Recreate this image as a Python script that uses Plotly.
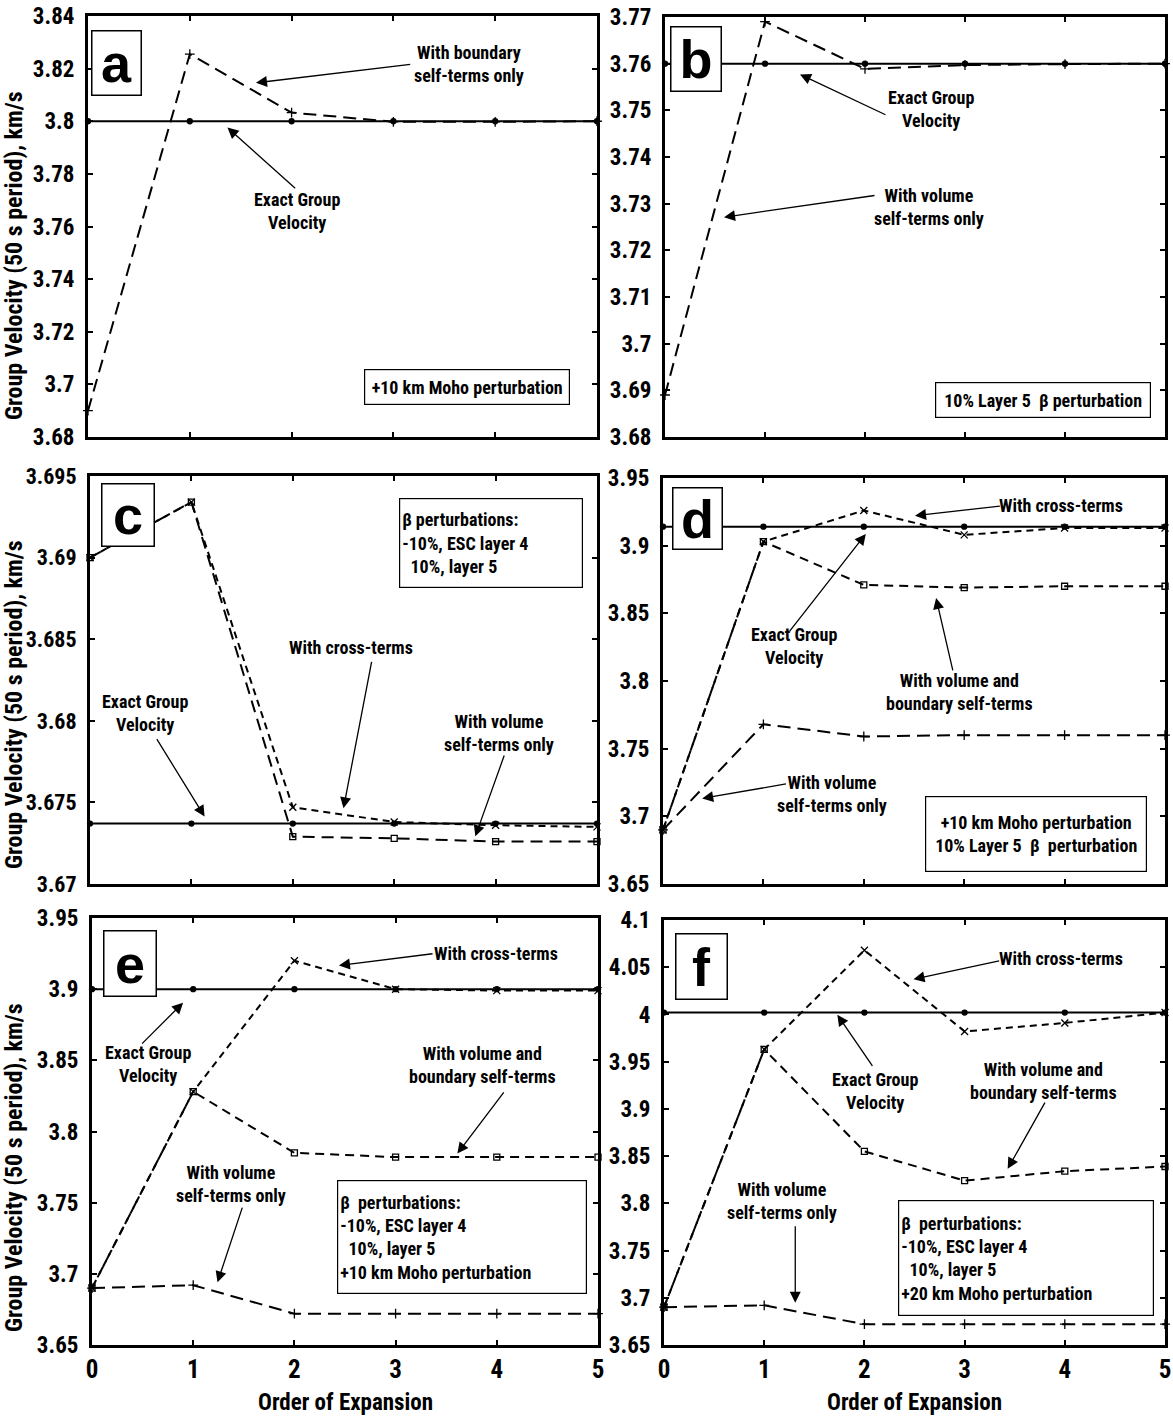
import plotly.graph_objects as go

W, H = 1173, 1423
FONT = "Roboto Condensed, Open Sans Condensed, Liberation Sans Narrow, sans-serif"

# ---------------- data ----------------
x_order = [0, 1, 2, 3, 4, 5]
x_ticktext = ["0", "1", "2", "3", "4", "5"]

a_exact = [3.800, 3.800, 3.800, 3.800, 3.800, 3.800]
a_boundary = [3.690, 3.8255, 3.8033, 3.7998, 3.7998, 3.8000]

b_exact = [3.760, 3.760, 3.760, 3.760, 3.760, 3.760]
b_volume = [3.689, 3.7690, 3.7589, 3.7597, 3.7599, 3.7600]

c_exact = [3.6737, 3.6737, 3.6737, 3.6737, 3.6737, 3.6737]
c_cross = [3.6900, 3.6934, 3.6747, 3.6738, 3.6736, 3.6735]
c_volume = [3.6900, 3.6934, 3.6729, 3.6728, 3.6726, 3.6726]

d_exact = [3.914, 3.914, 3.914, 3.914, 3.914, 3.914]
d_cross = [3.690, 3.903, 3.926, 3.908, 3.913, 3.913]
d_volbound = [3.690, 3.903, 3.871, 3.869, 3.870, 3.870]
d_volume = [3.690, 3.768, 3.759, 3.760, 3.760, 3.760]

e_exact = [3.900, 3.900, 3.900, 3.900, 3.900, 3.900]
e_cross = [3.690, 3.828, 3.920, 3.900, 3.899, 3.899]
e_volbound = [3.690, 3.828, 3.785, 3.782, 3.782, 3.782]
e_volume = [3.690, 3.692, 3.672, 3.672, 3.672, 3.672]

f_exact = [4.002, 4.002, 4.002, 4.002, 4.002, 4.002]
f_cross = [3.690, 3.963, 4.068, 3.982, 3.991, 4.002]
f_volbound = [3.690, 3.963, 3.855, 3.824, 3.834, 3.839]
f_volume = [3.690, 3.692, 3.672, 3.672, 3.672, 3.672]

a_yticks = [3.68, 3.70, 3.72, 3.74, 3.76, 3.78, 3.80, 3.82, 3.84]
a_ytext = ["3.68", "3.7", "3.72", "3.74", "3.76", "3.78", "3.8", "3.82", "3.84"]
b_yticks = [3.68, 3.69, 3.70, 3.71, 3.72, 3.73, 3.74, 3.75, 3.76, 3.77]
b_ytext = ["3.68", "3.69", "3.7", "3.71", "3.72", "3.73", "3.74", "3.75", "3.76", "3.77"]
c_yticks = [3.670, 3.675, 3.680, 3.685, 3.690, 3.695]
c_ytext = ["3.67", "3.675", "3.68", "3.685", "3.69", "3.695"]
de_yticks = [3.65, 3.70, 3.75, 3.80, 3.85, 3.90, 3.95]
de_ytext = ["3.65", "3.7", "3.75", "3.8", "3.85", "3.9", "3.95"]
f_yticks = [3.65, 3.70, 3.75, 3.80, 3.85, 3.90, 3.95, 4.00, 4.05, 4.10]
f_ytext = ["3.65", "3.7", "3.75", "3.8", "3.85", "3.9", "3.95", "4", "4.05", "4.1"]

y_title = "Group Velocity (50 s period), km/s"
x_title = "Order of Expansion"

# ---------------- layout geometry (pixels) ----------------
frames = {
    1: (88, 597, 16, 437),
    2: (665, 1165, 17, 437),
    3: (90, 597, 476, 884),
    4: (663, 1165, 478, 884),
    5: (92, 598, 918, 1345),
    6: (664, 1165, 920, 1345),
}
yranges = {1: (3.68, 3.84), 2: (3.68, 3.77), 3: (3.67, 3.695),
           4: (3.65, 3.95), 5: (3.65, 3.95), 6: (3.65, 4.10)}
yticks = {1: (a_yticks, a_ytext), 2: (b_yticks, b_ytext), 3: (c_yticks, c_ytext),
          4: (de_yticks, de_ytext), 5: (de_yticks, de_ytext), 6: (f_yticks, f_ytext)}
ytick_size = {1: 23, 2: 23, 3: 22, 4: 23, 5: 23, 6: 23}
ytitle_center = {1: 256, 3: 705, 5: 1168}

fig = go.Figure()

STYLE = {
    "exact": dict(dash="solid", symbol="circle", size=5, width=2),
    "volume": dict(dash="13px,7px", symbol="cross-thin", size=7, width=2),
    "volsq": dict(dash="12px,7px", symbol="square-open", size=6, width=2),
    "volbound": dict(dash="9px,6px", symbol="square-open", size=6, width=2),
    "cross": dict(dash="7px,5px", symbol="x-thin", size=7, width=2),
}


def ax(i, kind):
    return kind if i == 1 else f"{kind}{i}"


def add(i, y, style, name):
    s = STYLE[style]
    fig.add_trace(go.Scatter(
        x=x_order, y=y, mode="lines+markers", name=name, showlegend=False,
        xaxis=ax(i, "x"), yaxis=ax(i, "y"), cliponaxis=False,
        line=dict(color="black", width=s["width"], dash=s["dash"]),
        marker=dict(symbol=s["symbol"], size=s["size"], color="black",
                    line=dict(color="black", width=1.3)),
    ))


add(1, a_exact, "exact", "Exact")
add(1, a_boundary, "volume", "Boundary self-terms only")
add(2, b_exact, "exact", "Exact")
add(2, b_volume, "volume", "Volume self-terms only")
add(3, c_exact, "exact", "Exact")
add(3, c_volume, "volsq", "Volume self-terms only")
add(3, c_cross, "cross", "Cross-terms")
add(4, d_exact, "exact", "Exact")
add(4, d_volume, "volume", "Volume self-terms only")
add(4, d_volbound, "volbound", "Volume and boundary")
add(4, d_cross, "cross", "Cross-terms")
add(5, e_exact, "exact", "Exact")
add(5, e_volume, "volume", "Volume self-terms only")
add(5, e_volbound, "volbound", "Volume and boundary")
add(5, e_cross, "cross", "Cross-terms")
add(6, f_exact, "exact", "Exact")
add(6, f_volume, "volume", "Volume self-terms only")
add(6, f_volbound, "volbound", "Volume and boundary")
add(6, f_cross, "cross", "Cross-terms")

layout = dict(width=W, height=H, margin=dict(l=0, r=0, t=0, b=0, autoexpand=False),
              paper_bgcolor="white", plot_bgcolor="white", showlegend=False,
              font=dict(family=FONT, color="black"))

for i, (l, r, t, b) in frames.items():
    xa = dict(domain=[l / W, r / W], range=[0, 5], anchor=ax(i, "y"),
              showline=True, linewidth=3, linecolor="black", mirror="allticks",
              ticks="inside", ticklen=5, tickwidth=1.5, tickcolor="black",
              tickvals=x_order, ticktext=x_ticktext, showgrid=False, zeroline=False,
              showticklabels=(i >= 5), ticklabelstandoff=0,
              tickfont=dict(family=FONT, size=25, weight=700, color="black"))
    tv, tt = yticks[i]
    ya = dict(domain=[1 - b / H, 1 - t / H], range=list(yranges[i]), anchor=ax(i, "x"),
              showline=True, linewidth=3, linecolor="black", mirror="allticks",
              ticks="inside", ticklen=5, tickwidth=1.5, tickcolor="black",
              tickvals=tv, ticktext=tt, showgrid=False, zeroline=False,
              ticklabelstandoff=6,
              tickfont=dict(family=FONT, size=ytick_size[i], weight=700, color="black"))
    layout["xaxis" if i == 1 else f"xaxis{i}"] = xa
    layout["yaxis" if i == 1 else f"yaxis{i}"] = ya

annotations = []
TXT = dict(family=FONT, size=18, weight=700, color="black")


def label(i, x, y, text):
    annotations.append(dict(xref=ax(i, "x"), yref=ax(i, "y"), x=x, y=y, text=text,
                            xanchor="center", yanchor="middle",
                            showarrow=False, font=TXT, align="center"))


def arrow(i, tail, head):
    annotations.append(dict(xref=ax(i, "x"), yref=ax(i, "y"), axref=ax(i, "x"),
                            ayref=ax(i, "y"), x=head[0], y=head[1], ax=tail[0], ay=tail[1],
                            text="", showarrow=True, arrowhead=2, arrowsize=1.7,
                            arrowwidth=1.3, arrowcolor="black", standoff=0))


def letter(i, x, y, text, w, h):
    annotations.append(dict(xref=ax(i, "x"), yref=ax(i, "y"), x=x, y=y, text=text,
                            xanchor="center", yanchor="middle",
                            showarrow=False, width=w, height=h, bgcolor="white",
                            bordercolor="black", borderwidth=1.5, borderpad=0,
                            font=dict(family="Liberation Sans, Arial, sans-serif", size=54,
                                      weight=700, color="black")))


def box(i, x, y, text, w, h, align="left"):
    annotations.append(dict(xref=ax(i, "x"), yref=ax(i, "y"), x=x, y=y, text=text,
                            xanchor="center", yanchor="middle",
                            showarrow=False, width=w, height=h, bgcolor="white",
                            bordercolor="black", borderwidth=1.2, borderpad=2,
                            align=align, valign="middle", font=TXT))


NB = "\u00a0"
# panel a
letter(1, 0.277, 3.8223, "a", 48, 63)
label(1, 3.74, 3.8217, "With boundary<br>self-terms only")
arrow(1, (3.18, 3.8217), (1.65, 3.8146))
label(1, 2.05, 3.7659, "Exact Group<br>Velocity")
arrow(1, (2.05, 3.7740), (1.37, 3.7976))
box(1, 3.725, 3.6989, "+10 km Moho perturbation", 200, 30, "center")

# panel b
letter(2, 0.31, 3.761, "b", 49, 63)
label(2, 2.66, 3.7502, "Exact Group<br>Velocity")
arrow(2, (2.22, 3.7489), (1.35, 3.7577))
label(2, 2.64, 3.7293, "With volume<br>self-terms only")
arrow(2, (2.11, 3.7318), (0.59, 3.7271))
box(2, 3.78, 3.6879, "10% Layer 5" + NB + NB + "β perturbation", 210, 30, "center")

# panel c
letter(3, 0.37, 3.69258, "c", 51, 61)
box(3, 3.95, 3.6909, "β perturbations:<br>-10%, ESC layer 4<br>" + NB + NB + "10%, layer 5", 178, 84)
label(3, 2.57, 3.6845, "With cross-terms")
arrow(3, (2.78, 3.6837), (2.50, 3.67464))
label(3, 0.54, 3.6805, "Exact Group<br>Velocity")
arrow(3, (0.65, 3.67897), (1.13, 3.67413))
label(3, 4.03, 3.67927, "With volume<br>self-terms only")
arrow(3, (4.09, 3.67796), (3.80, 3.67292))

# panel d
letter(4, 0.34, 3.9203, "d", 48, 60)
label(4, 3.96, 3.9294, "With cross-terms")
arrow(4, (3.37, 3.9294), (2.51, 3.9221))
label(4, 1.30, 3.8256, "Exact Group<br>Velocity")
arrow(4, (1.25, 3.8358), (2.02, 3.9087))
label(4, 2.95, 3.7921, "With volume and<br>boundary self-terms")
arrow(4, (2.89, 3.8067), (2.72, 3.8613))
label(4, 1.68, 3.7168, "With volume<br>self-terms only")
arrow(4, (1.24, 3.7241), (0.39, 3.7132))
box(4, 3.715, 3.687, "+10 km Moho perturbation<br>10% Layer 5" + NB + NB + "β" + NB + NB + "perturbation",
    216, 70, "center")

# panel e
letter(5, 0.376, 3.9182, "e", 51, 64)
label(5, 3.99, 3.925, "With cross-terms")
arrow(5, (3.38, 3.925), (2.44, 3.9167))
label(5, 0.55, 3.8476, "Exact Group<br>Velocity")
arrow(5, (0.48, 3.8607), (0.90, 3.8905))
label(5, 3.86, 3.8464, "With volume and<br>boundary self-terms")
arrow(5, (4.08, 3.8286), (3.61, 3.7845))
label(5, 1.37, 3.763, "With volume<br>self-terms only")
arrow(5, (1.49, 3.7476), (1.24, 3.694))
box(5, 3.66, 3.7262, "β" + NB + NB + "perturbations:<br>-10%, ESC layer 4<br>" + NB + NB + "10%, layer 5<br>+10 km Moho perturbation",
    244, 108)

# panel f
letter(6, 0.37, 4.0505, "f", 50, 64)
label(6, 3.96, 4.0588, "With cross-terms")
arrow(6, (3.36, 4.057), (2.49, 4.0373))
label(6, 2.11, 3.919, "Exact Group<br>Velocity")
arrow(6, (2.09, 3.944), (1.73, 3.9996))
label(6, 3.79, 3.9297, "With volume and<br>boundary self-terms")
arrow(6, (3.81, 3.9082), (3.43, 3.8365))
label(6, 1.18, 3.8024, "With volume<br>self-terms only")
arrow(6, (1.31, 3.7773), (1.31, 3.6948))
box(6, 3.61, 3.742, "β" + NB + NB + "perturbations:<br>-10%, ESC layer 4<br>" + NB + NB + "10%, layer 5<br>+20 km Moho perturbation",
    250, 110)

# axis titles
TITLE = dict(family=FONT, size=24, weight=700, color="black")
for i in (1, 3, 5):
    annotations.append(dict(xref="paper", yref="paper", x=14 / W, y=1 - ytitle_center[i] / H,
                            text=y_title, textangle=-90, showarrow=False, font=TITLE,
                            xanchor="center", yanchor="middle"))
for i in (5, 6):
    l, r, t, b = frames[i]
    annotations.append(dict(xref="paper", yref="paper", x=((l + r) / 2) / W, y=1 - 1402 / H,
                            text=x_title, showarrow=False, font=dict(TITLE, size=23),
                            xanchor="center", yanchor="middle"))

layout["annotations"] = annotations
fig.update_layout(**layout)
fig.write_html("out.html")
